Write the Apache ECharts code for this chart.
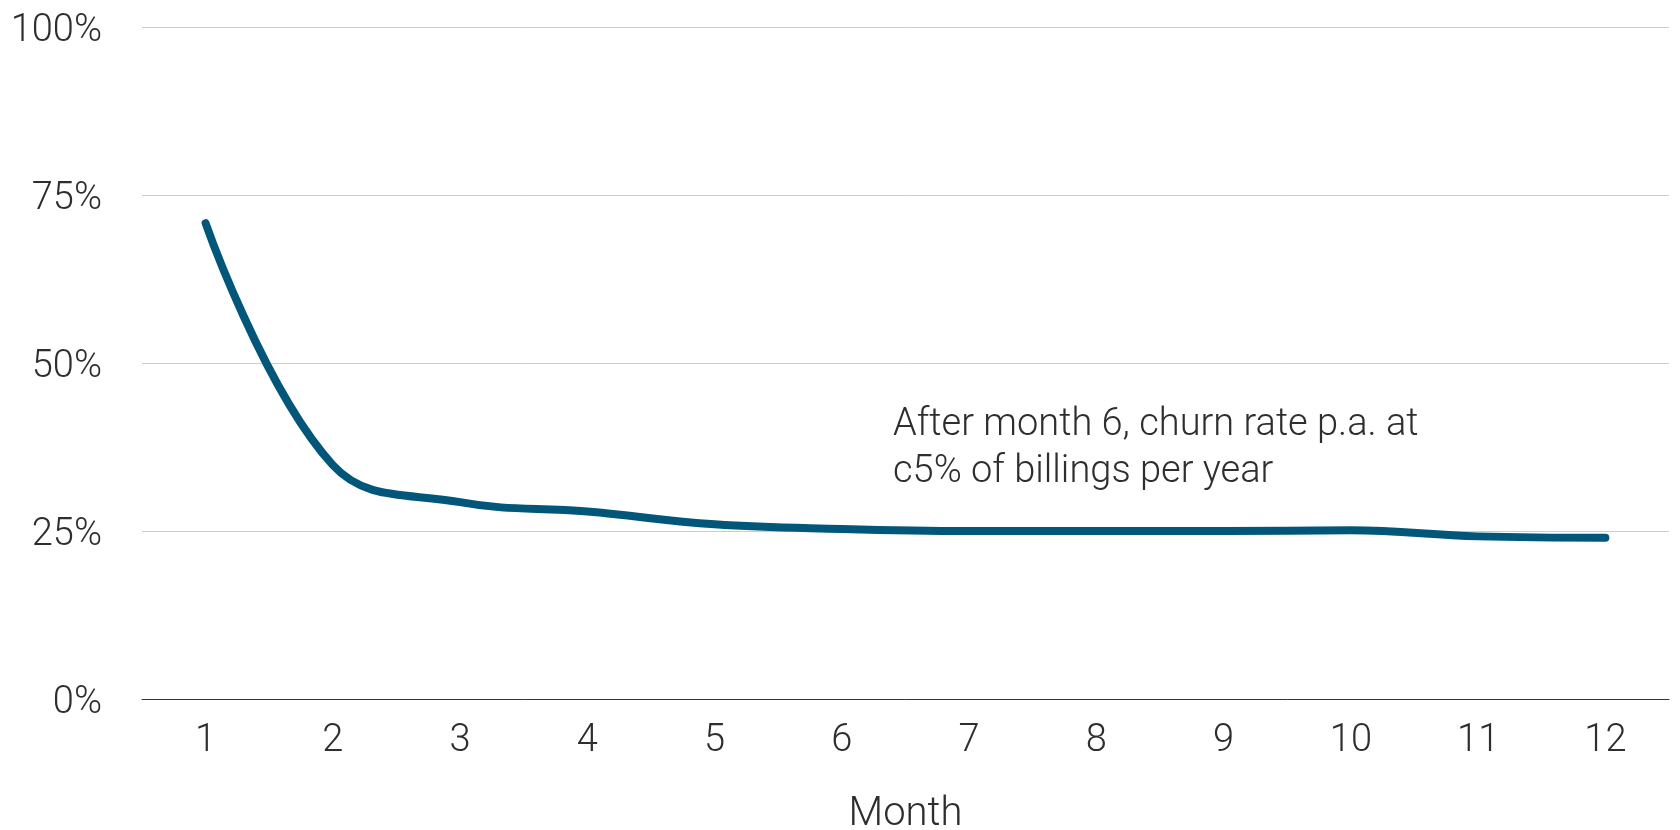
<!DOCTYPE html>
<html>
<head>
<meta charset="utf-8">
<title>Churn rate by month</title>
<script src="https://cdn.jsdelivr.net/npm/echarts@6/dist/echarts.min.js"></script>
<style>
  html, body { margin: 0; padding: 0; background: #ffffff; }
  #chart { width: 1680px; height: 830px; }
</style>
</head>
<body>
<div id="chart"></div>
<script>
// Months since start of contract
const months = ['1', '2', '3', '4', '5', '6', '7', '8', '9', '10', '11', '12'];
// Churn rate (% p.a.)
const churnRate = [70.8, 34.8, 29.3, 27.9, 26.0, 25.3, 25.0, 25.0, 25.0, 25.1, 24.2, 24.0];
// Y axis ticks
const yMin = 0;
const yMax = 100;
const yStep = 25;
const xAxisTitle = 'Month';
const noteLines = ['After month 6, churn rate p.a. at', 'c5% of billings per year'];

const FONT = 'Roboto';
const TEXT = '#2e2e2e';

const chart = echarts.init(document.getElementById('chart'), null, { renderer: 'canvas' });

chart.setOption({
  animation: false,
  backgroundColor: '#ffffff',
  grid: {
    left: 142, right: 11, top: 27, bottom: 131,
    containLabel: false,
    outerBoundsMode: 'none'
  },
  xAxis: {
    type: 'category',
    data: months,
    boundaryGap: true,
    name: xAxisTitle,
    nameLocation: 'middle',
    nameGap: 96,
    nameTextStyle: { fontFamily: FONT, fontWeight: 300, fontSize: 40, color: TEXT },
    axisLine: { show: true, lineStyle: { color: '#333333', width: 1 } },
    axisTick: { show: false },
    axisLabel: { margin: 23, fontFamily: FONT, fontWeight: 300, fontSize: 38, color: TEXT },
    splitLine: { show: false }
  },
  yAxis: {
    type: 'value',
    min: yMin,
    max: yMax,
    interval: yStep,
    axisLine: { show: false },
    axisTick: { show: false },
    axisLabel: {
      margin: 40,
      verticalAlign: 'middle',
      formatter: (v) => '{pct|' + v + '%}',
      rich: {
        pct: {
          fontFamily: FONT, fontWeight: 300, fontSize: 38, color: TEXT,
          padding: [8, 0, 0, 0]
        }
      }
    },
    splitLine: { show: true, lineStyle: { color: '#cccccc', width: 1 } }
  },
  series: [{
    type: 'line',
    data: churnRate,
    smooth: 0.4,
    showSymbol: false,
    symbol: 'none',
    lineStyle: { color: '#02567a', width: 8, cap: 'round', join: 'round' },
    z: 3
  }],
  graphic: [{
    type: 'text',
    left: 893,
    top: 402,
    style: {
      text: noteLines.join('\n'),
      fontFamily: FONT,
      fontWeight: 300,
      fontSize: 38,
      lineHeight: 47,
      fill: TEXT
    }
  }]
});
</script>
</body>
</html>
